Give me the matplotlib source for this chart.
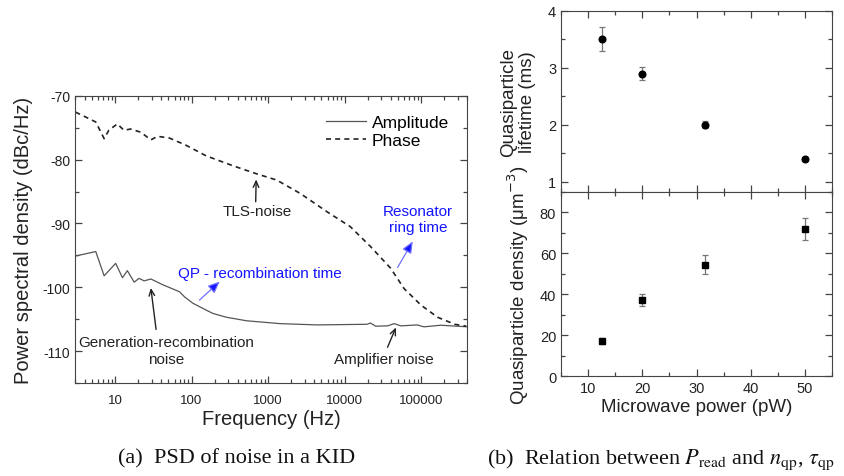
"""PSD of KID noise and quasiparticle lifetime/density vs. readout power."""

# ---------- Imports ---------- #
import numpy as np
import matplotlib.pyplot as plt
from matplotlib.ticker import FixedLocator, MultipleLocator, LogLocator, NullFormatter

# ---------- Data ---------- #
amp_freq = [3.07, 5.6, 7.2, 10.2, 12.5, 14.5, 17.8, 20.6, 24, 29.4, 42, 69.5, 81,
            104, 140, 190, 286, 524, 1440, 4400, 19700, 21800, 25500, 36500,
            44700, 54500, 89000, 109000, 181000, 405000]
amp_psd = [-95.1, -94.4, -98.2, -96.25, -98.5, -97.4, -99.2, -98.6, -99.0, -98.7,
           -99.6, -100.7, -101.5, -102.5, -103.3, -104.1, -104.7, -105.25, -105.7,
           -105.9, -105.8, -105.6, -106.1, -106.05, -105.7, -106.05, -105.9,
           -106.2, -105.95, -106.2]

phase_freq = [3.04, 4.1, 5.6, 7.2, 8.3, 10.7, 13.1, 16, 21.7, 29.4, 36, 51, 85, 155,
              350, 700, 1300, 2640, 5960, 11900, 21800, 40000, 60000, 100000,
              165000, 275000, 390000]
phase_psd = [-72.55, -73.3, -74.1, -76.7, -75.4, -74.4, -75.4, -75.2, -75.7, -76.9,
             -76.35, -76.6, -77.75, -79.4, -80.97, -82.2, -83.2, -85.3, -88.2,
             -90.5, -93.6, -97.0, -100.2, -102.8, -104.7, -105.8, -106.1]

power_pw = [12.6, 20.0, 31.6, 50.1]
lifetime_ms = [3.5, 2.9, 2.0, 1.4]
lifetime_err = [0.21, 0.11, 0.06, 0.02]
density = [17.0, 37.0, 54.5, 72.0]
density_err = [1.5, 3.0, 4.5, 5.5]

freq_ticks = [10, 100, 1000, 10000, 100000]
freq_labels = ["10", "100", "1000", "10000", "100000"]

# ---------- Style ---------- #
plt.rcParams["font.family"] = ["Liberation Sans", "DejaVu Sans"]
plt.rcParams["axes.unicode_minus"] = False
plt.rcParams["axes.edgecolor"] = "#444444"
plt.rcParams["xtick.color"] = "#444444"
plt.rcParams["ytick.color"] = "#444444"
plt.rcParams["xtick.labelcolor"] = "#222222"
plt.rcParams["ytick.labelcolor"] = "#222222"

TXT = "#222222"
BLUE = "#1414ff"


def style_ticks(ax, major=5, minor=3):
    ax.tick_params(which="both", direction="in", top=True, right=True, width=0.9)
    ax.tick_params(which="major", length=major)
    ax.tick_params(which="minor", length=minor)


def arrow(ax, head, tail, color="#222222", blue=False):
    if blue:
        props = dict(arrowstyle="-|>,head_length=0.7,head_width=0.3",
                     fc=BLUE, ec="#7070ff", lw=0.9, shrinkA=0, shrinkB=0)
    else:
        props = dict(arrowstyle="->,head_length=0.45,head_width=0.2",
                     color=color, lw=1.0, shrinkA=0, shrinkB=0)
    ax.annotate("", xy=head, xytext=tail, arrowprops=props)


fig = plt.figure(figsize=(8.44, 4.77), dpi=100)

# ---------- Panel (a) ---------- #
ax = fig.add_axes([0.0889, 0.195, 0.4645, 0.602])
ax.plot(amp_freq, amp_psd, color="#555555", lw=0.9, label="Amplitude")
ax.plot(phase_freq, phase_psd, color="#222222", lw=1.2, ls=(0, (3, 2.5)), label="Phase")
ax.set_xscale("log")
ax.set_xlim(3, 4e5)
ax.set_ylim(-115, -70)
ax.xaxis.set_major_locator(FixedLocator(freq_ticks))
ax.set_xticklabels(freq_labels)
ax.xaxis.set_minor_locator(LogLocator(base=10, subs=np.arange(2, 10), numticks=20))
ax.xaxis.set_minor_formatter(NullFormatter())
ax.yaxis.set_major_locator(MultipleLocator(10))
ax.yaxis.set_minor_locator(MultipleLocator(5))
style_ticks(ax)
ax.tick_params(axis="x", labelsize=9.5, pad=8)
ax.tick_params(axis="y", labelsize=10)
ax.set_xlabel("Frequency (Hz)", fontsize=14.5, color=TXT, labelpad=2)
ax.set_ylabel("Power spectral density (dBc/Hz)", fontsize=14.5, color=TXT,
              labelpad=7)
ax.legend(loc="upper left", bbox_to_anchor=(0.64, 0.935), frameon=False,
          fontsize=12.5, borderpad=0, borderaxespad=0, handlelength=2.3,
          handletextpad=0.35, labelspacing=0.2)

ax.text(720, -88.1, "TLS-noise", fontsize=11, color=TXT, ha="center", va="center")
arrow(ax, head=(700, -83.1), tail=(690, -86.6))
ax.text(46, -109.9, "Generation-recombination\nnoise", fontsize=11, color=TXT,
        ha="center", va="center", linespacing=1.2)
arrow(ax, head=(29.4, -100.1), tail=(34.4, -106.6))
ax.text(32300, -111.2, "Amplifier noise", fontsize=11, color=TXT,
        ha="center", va="center")
arrow(ax, head=(47000, -106.3), tail=(36500, -109.4))
ax.text(785, -97.7, "QP - recombination time", fontsize=11, color=BLUE,
        ha="center", va="center")
arrow(ax, head=(234, -99.1), tail=(127, -102), blue=True)
ax.text(92000, -89.3, "Resonator\nring time", fontsize=11, color=BLUE,
        ha="center", va="center", linespacing=1.2)
arrow(ax, head=(78000, -92.8), tail=(49400, -96.9), blue=True)

# ---------- Panel (b) ---------- #
ax_t = fig.add_axes([0.6647, 0.5954, 0.3211, 0.3795])
ax_b = fig.add_axes([0.6647, 0.2096, 0.3211, 0.3858], sharex=ax_t)

ax_t.errorbar(power_pw, lifetime_ms, yerr=lifetime_err, fmt="o", color="black",
              ms=4.8, ecolor="#777777", elinewidth=0.9, capsize=2.5, capthick=0.9)
ax_t.set_ylim(0.82, 4.0)
ax_t.yaxis.set_major_locator(MultipleLocator(1))
ax_t.yaxis.set_minor_locator(MultipleLocator(0.5))
ax_t.set_ylabel("Quasiparticle\nlifetime (ms)", fontsize=13.5, color=TXT,
                linespacing=1.1, labelpad=9)
style_ticks(ax_t)
ax_t.tick_params(axis="x", labelbottom=False)
ax_t.tick_params(axis="y", labelsize=10.5)

ax_b.errorbar(power_pw, density, yerr=density_err, fmt="s", color="black",
              ms=4.5, ecolor="#777777", elinewidth=0.9, capsize=2.5, capthick=0.9)
ax_b.set_xlim(5, 55)
ax_b.set_ylim(0, 90)
ax_b.xaxis.set_major_locator(MultipleLocator(10))
ax_b.xaxis.set_minor_locator(MultipleLocator(5))
ax_b.yaxis.set_major_locator(MultipleLocator(20))
ax_b.yaxis.set_minor_locator(MultipleLocator(10))
ax_b.set_ylabel("Quasiparticle density (μm$^{-3}$)", fontsize=13.5, color=TXT,
                labelpad=6, math_fontfamily="dejavusans")
ax_b.set_xlabel("Microwave power (pW)", fontsize=13.5, color=TXT, labelpad=2)
style_ticks(ax_b)
ax_b.tick_params(axis="both", labelsize=10.5)

# ---------- Captions ---------- #
cap_font = ["Liberation Serif", "DejaVu Serif"]
fig.text(0.280, 0.028, "(a)  PSD of noise in a KID", fontsize=16, family=cap_font,
         ha="center", va="baseline", color="#111111")
fig.text(0.783, 0.028, r"(b)  Relation between $P_{\mathrm{read}}$ and "
         r"$n_{\mathrm{qp}}$, $\tau_{\mathrm{qp}}$", fontsize=16, family=cap_font,
         ha="center", va="baseline", color="#111111", math_fontfamily="stix")

fig.savefig("out.png", dpi=100)
